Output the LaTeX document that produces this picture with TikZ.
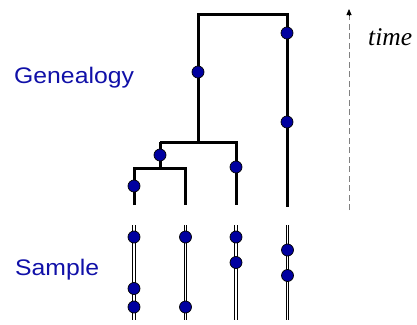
\documentclass[tikz,border=0pt]{standalone}
\usepackage{fontspec}
\setmainfont{Liberation Sans}
\newfontfamily\timefont{Liberation Serif}
\usetikzlibrary{arrows.meta}
\definecolor{dotblue}{RGB}{0,0,160}
\definecolor{labelblue}{RGB}{16,16,168}
\begin{document}
\begin{tikzpicture}[x=1pt,y=-1pt,
  dot/.style={circle,draw=black,line width=0.7pt,fill=dotblue,minimum size=12pt,inner sep=0pt},
  branch/.style={line width=3pt,line cap=rect},
  samp/.style={line width=0.9pt,double=white,double distance=1.6pt},
  lbl/.style={text=labelblue,font=\fontsize{22.5}{26}\selectfont,anchor=base west,inner sep=0pt,xscale=1.1},
  timeline/.style={gray,line width=1pt,dash pattern=on 6pt off 3.5pt}]
\useasboundingbox (0,0) rectangle (417,324);
% genealogy corners
\coordinate (r1) at (198,14);
\coordinate (r2) at (287,14);
\coordinate (a) at (198,142);
\coordinate (al) at (160,142);
\coordinate (ar) at (236,142);
\coordinate (b) at (160,168);
\coordinate (bl) at (134,168);
\coordinate (br) at (185,168);
\coordinate (e1) at (134,205);
\coordinate (e2) at (185,205);
\coordinate (e3) at (236,205);
\coordinate (e4) at (287,205);
\draw[branch] (a) -- (r1) -- (r2) -- (e4);
\draw[branch,line cap=butt] (al) -- (ar) -- (e3);
\draw[branch,line cap=butt] (al) -- (b);
\draw[branch,line cap=butt] (e1) -- (bl) -- (br) -- (e2);
\draw[branch,line cap=butt] (al) -- (ar);
% sample lines
\foreach \n/\x in {1/134,2/185.5,3/236,4/287.5}{
  \coordinate (s\n t) at (\x,225);
  \coordinate (s\n b) at (\x,320);
  \draw[samp] (s\n t) -- (s\n b);
}
% genealogy dots
\node[dot] (g1) at (198,72) {};
\node[dot] (g2) at (287,33) {};
\node[dot] (g3) at (287,122) {};
\node[dot] (g4) at (236,167) {};
\node[dot] (g5) at (160,155) {};
\node[dot] (g6) at (134,186) {};
% sample dots
\node[dot] (p1) at (134,237) {};
\node[dot] (p2) at (134,288.5) {};
\node[dot] (p3) at (134,307) {};
\node[dot] (p4) at (185.5,237) {};
\node[dot] (p5) at (185.5,307) {};
\node[dot] (p6) at (236,237) {};
\node[dot] (p7) at (236,262.5) {};
\node[dot] (p8) at (287.5,250) {};
\node[dot] (p9) at (287.5,275.5) {};
% labels
\node[lbl] (gen) at (14,83) {Genealogy};
\node[lbl] (smp) at (15,275) {Sample};
% time arrow
\coordinate (tb) at (349,210);
\coordinate (tt) at (349,9);
\draw[timeline] (tb) -- (349,16);
\draw[-{Triangle[length=6pt,width=5pt]},black,line width=0.8pt] (349,16) -- (tt);
\node[anchor=base west,inner sep=0pt,font=\timefont\itshape\fontsize{25.5}{28}\selectfont] (time) at (368,45) {time};
\end{tikzpicture}
\end{document}
